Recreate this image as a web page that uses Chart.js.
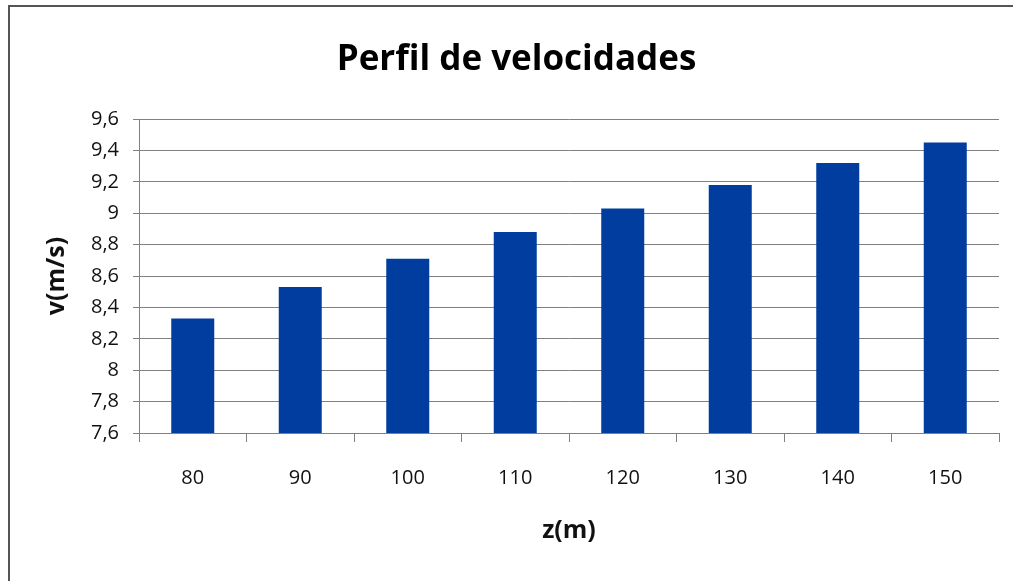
<!DOCTYPE html>
<html>
<head>
<meta charset="utf-8">
<script src="https://cdn.jsdelivr.net/npm/chart.js@4"></script>
<style>
  html, body { margin: 0; padding: 0; background: #fff; }
  #wrap { width: 1013px; height: 581px; position: relative; }
</style>
</head>
<body>
<div id="wrap"><canvas id="perfilChart"></canvas></div>
<script>
// alturas z (m) y velocidad v (m/s)
const alturas = ['80', '90', '100', '110', '120', '130', '140', '150'];
const velocidades = [8.33, 8.53, 8.71, 8.88, 9.03, 9.18, 9.32, 9.45];
const yMin = 7.6;
const yMax = 9.6;
const yPaso = 0.2;

const tituloGrafico = 'Perfil de velocidades';
const tituloX = 'z(m)';
const tituloY = 'v(m/s)';

const gris = '#808080';

// marco gris arriba y a la izquierda, como en la hoja original
const marco = {
    id: 'marco',
    afterDraw(chart) {
        const ctx = chart.ctx;
        ctx.save();
        ctx.strokeStyle = '#555';
        ctx.lineWidth = 2;
        ctx.beginPath();
        ctx.moveTo(9, 581);
        ctx.lineTo(9, 6);
        ctx.lineTo(1013, 6);
        ctx.stroke();
        ctx.restore();
    }
};

function initChart() {
    const ctx = document.getElementById('perfilChart').getContext('2d');
    new Chart(ctx, {
        type: 'bar',
        data: {
            labels: alturas,
            datasets: [{
                data: velocidades,
                backgroundColor: '#003D9E',
                borderWidth: 0,
                categoryPercentage: 1,
                barPercentage: 0.4
            }]
        },
        options: {
            responsive: true,
            maintainAspectRatio: false,
            animation: false,
            // padding izquierdo grande para que el título quede centrado como en el original
            layout: { padding: { left: 34, right: 14, top: 0, bottom: 0 } },
            plugins: {
                legend: { display: false },
                tooltip: { enabled: false },
                title: {
                    display: true,
                    text: tituloGrafico,
                    color: '#000',
                    font: { family: "'Open Sans', sans-serif", size: 35, weight: 'bold', lineHeight: 1.2 },
                    padding: { top: 39, bottom: 38 }
                }
            },
            scales: {
                x: {
                    afterFit: s => { s.height = 148; },
                    grid: {
                        display: true,
                        drawOnChartArea: false,
                        drawTicks: true,
                        tickLength: 9,
                        color: gris,
                        offset: true
                    },
                    border: { display: true, color: gris, width: 1 },
                    ticks: {
                        color: '#111',
                        padding: 24,
                        maxRotation: 0,
                        font: { family: "'Open Sans', sans-serif", size: 20 }
                    },
                    title: {
                        display: true,
                        text: tituloX,
                        color: '#111',
                        font: { family: "'Open Sans', sans-serif", size: 25, weight: 'bold', lineHeight: 1.2 },
                        padding: { top: 0, bottom: 35 }
                    }
                },
                y: {
                    min: yMin,
                    max: yMax,
                    afterFit: s => { s.width = 105; },
                    grid: {
                        color: gris,
                        lineWidth: 1,
                        tickLength: 6
                    },
                    border: { display: true, color: gris, width: 1 },
                    ticks: {
                        stepSize: yPaso,
                        color: '#111',
                        padding: 14,
                        font: { family: "'Open Sans', sans-serif", size: 20 },
                        callback: v => String(Number(v.toFixed(1))).replace('.', ',')
                    },
                    title: {
                        display: true,
                        text: tituloY,
                        color: '#111',
                        font: { family: "'Open Sans', sans-serif", size: 25, weight: 'bold', lineHeight: 1.2 },
                        padding: { top: 8, bottom: 0 }
                    }
                }
            }
        },
        plugins: [marco]
    });
}

window.onload = () => {
    initChart();
};
</script>
</body>
</html>
